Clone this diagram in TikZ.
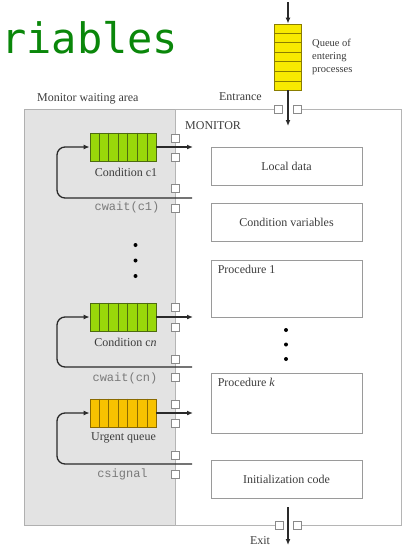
\documentclass[tikz,border=0pt]{standalone}
\usepackage{fontspec}
\setmainfont{Liberation Serif}
\setmonofont{Liberation Mono}
\newfontfamily\bigmono{DejaVu Sans Mono}
\usetikzlibrary{arrows.meta,calc}
\definecolor{txt}{HTML}{3C3C3C}
\definecolor{monotxt}{HTML}{7A7A7A}
\definecolor{graybg}{HTML}{E3E3E3}
\definecolor{grayedge}{HTML}{B0B0B0}
\definecolor{monedge}{HTML}{B5B5B5}
\definecolor{boxedge}{HTML}{9A9A9A}
\definecolor{sqedge}{HTML}{8A8A8A}
\definecolor{arrowc}{HTML}{2A2A2A}
\definecolor{qgreenfill}{HTML}{99D80A}
\definecolor{qgreenedge}{HTML}{4D6B10}
\definecolor{qurgfill}{HTML}{F7C200}
\definecolor{qurgedge}{HTML}{8A6A00}
\definecolor{qyelfill}{HTML}{F8EA00}
\definecolor{qyeledge}{HTML}{8A7D00}
\definecolor{titlegreen}{RGB}{10,135,10}
\tikzset{
  lbl/.style={font=\fontsize{12}{14}\selectfont, text=txt, inner sep=0pt},
  monolbl/.style={font=\ttfamily\fontsize{12}{14}\selectfont, text=monotxt, inner sep=0pt},
  pbox/.style={draw=boxedge, line width=0.8pt, minimum width=151pt, inner sep=0pt,
               font=\fontsize{12}{14}\selectfont, text=txt},
  sqbox/.style={draw=sqedge, fill=white, minimum size=8pt, inner sep=0pt, line width=0.6pt},
  arr/.style={draw=arrowc, line width=1.3pt, -{Latex[length=6pt,width=5pt]}},
  hqueue/.style={minimum width=66pt, minimum height=28pt, inner sep=0pt, line width=0.8pt},
  cellline/.style={line width=0.6pt},
  dot/.style={circle, fill=black, inner sep=0pt, minimum size=4pt}
}
\begin{document}
\begin{tikzpicture}[x=1pt,y=-1pt]
\useasboundingbox (0,0) rectangle (403,547);

% title fragment
\node[anchor=base west, inner sep=0pt, font=\bigmono\fontsize{42}{42}\selectfont, text=titlegreen] (title) at (1,53) {riables};

% waiting area
\fill[graybg] (24,109) rectangle (175,525);
\draw[grayedge, line width=1pt] (24,109) rectangle (175,525);
\node[lbl, anchor=base west] (wa) at (37,101) {Monitor waiting area};

% monitor outline
\draw[monedge, line width=0.9pt] (274,109) -- (175,109) -- (175,525) -- (275,525);
\draw[monedge, line width=0.9pt] (301,109) -- (401,109) -- (401,525) -- (302,525);
\node[lbl, anchor=base west] (mon) at (185,129.5) {MONITOR};

% entering queue
\node[draw=qyeledge, fill=qyelfill, minimum width=27pt, minimum height=66pt, inner sep=0pt, line width=0.8pt] (qe) at (288,57) {};
\foreach \i in {1,...,6}
  \draw[qyeledge, cellline] ($(qe.north west)!\i/7!(qe.south west)$) -- ($(qe.north east)!\i/7!(qe.south east)$);
\coordinate (entrytop) at (288,2);
\coordinate (entryend) at (288,126);
\draw[arr] (entrytop) -- (qe.north);
\draw[arr] (qe.south) -- (entryend);
\node[anchor=north west, align=left, inner sep=0pt, font=\fontsize{10.5}{13.3}\selectfont, text=txt] (qlbl) at (312,38.5) {Queue of\\entering\\processes};
\node[lbl, anchor=base east] (ent) at (262,100) {Entrance};
\node[sqbox] (st1) at (278,109.5) {};
\node[sqbox] (st2) at (297,109.5) {};

% exit
\coordinate (exittop) at (288,507);
\coordinate (exitend) at (288,545);
\draw[arr] (exittop) -- (exitend);
\node[sqbox] (sb1) at (279,525) {};
\node[sqbox] (sb2) at (297.5,525) {};
\node[lbl, anchor=base] (exitl) at (260,544) {Exit};

% right-hand boxes
\node[pbox, minimum height=38pt] (local) at (286.5,166) {Local data};
\node[pbox, minimum height=38pt] (condv) at (286.5,222) {Condition variables};
\node[pbox, minimum height=57pt] (p1) at (286.5,288.5) {};
\node[lbl, anchor=north west] (p1l) at ([xshift=7pt,yshift=-5.5pt]p1.north west) {Procedure 1};
\node[pbox, minimum height=60pt] (pk) at (286.5,403) {};
\node[lbl, anchor=north west] (pkl) at ([xshift=7pt,yshift=-5.5pt]pk.north west) {Procedure \textit{k}};
\node[pbox, minimum height=38pt] (init) at (286.5,479) {Initialization code};
\node[dot] (rd1) at (286,330) {};
\node[dot] (rd2) at (286,344.5) {};
\node[dot] (rd3) at (286,359) {};

% left dots
\node[dot] (ld1) at (135.5,245) {};
\node[dot] (ld2) at (135.5,260.5) {};
\node[dot] (ld3) at (135.5,276) {};

% condition c1
\node[hqueue, draw=qgreenedge, fill=qgreenfill] (q1) at (123,147) {};
\foreach \i in {1,...,6}
  \draw[qgreenedge, cellline] ($(q1.north west)!\i/7!(q1.north east)$) -- ($(q1.south west)!\i/7!(q1.south east)$);
\coordinate (o1) at (193,147);
\coordinate (l1) at (192,198);
\coordinate (k1) at (57,198);
\draw[arr] (q1.east) -- (o1);
\draw[arr, rounded corners=8pt] (l1) -- (k1) |- (q1.west);
\node[lbl, anchor=base] (q1l) at (126,176.7) {Condition c1};
\node[monolbl, anchor=base] (w1) at (127,210.7) {cwait(c1)};
\node[sqbox] (s1a) at (175,138.5) {};
\node[sqbox] (s1b) at (175,157) {};
\node[sqbox] (s1c) at (175,188.5) {};
\node[sqbox] (s1d) at (175,208) {};

% condition cn
\node[hqueue, draw=qgreenedge, fill=qgreenfill] (qn) at (123,317) {};
\foreach \i in {1,...,6}
  \draw[qgreenedge, cellline] ($(qn.north west)!\i/7!(qn.north east)$) -- ($(qn.south west)!\i/7!(qn.south east)$);
\coordinate (on) at (193,317);
\coordinate (ln) at (192,367);
\coordinate (kn) at (57,367);
\draw[arr] (qn.east) -- (on);
\draw[arr, rounded corners=8pt] (ln) -- (kn) |- (qn.west);
\node[lbl, anchor=base] (qnl) at (125.5,346) {Condition c\textit{n}};
\node[monolbl, anchor=base] (wn) at (125,381.7) {cwait(cn)};
\node[sqbox] (sna) at (175,307.5) {};
\node[sqbox] (snb) at (175,327) {};
\node[sqbox] (snc) at (175,359) {};
\node[sqbox] (snd) at (175,377.5) {};

% urgent queue
\node[hqueue, draw=qurgedge, fill=qurgfill] (qu) at (123,413) {};
\foreach \i in {1,...,6}
  \draw[qurgedge, cellline] ($(qu.north west)!\i/7!(qu.north east)$) -- ($(qu.south west)!\i/7!(qu.south east)$);
\coordinate (ou) at (193,413);
\coordinate (lu) at (192,464);
\coordinate (ku) at (57,464);
\draw[arr] (qu.east) -- (ou);
\draw[arr, rounded corners=8pt] (lu) -- (ku) |- (qu.west);
\node[lbl, anchor=base] (qul) at (123.5,440) {Urgent queue};
\node[monolbl, anchor=base] (cs) at (122.5,477) {csignal};
\node[sqbox] (sua) at (175,404.5) {};
\node[sqbox] (sub) at (175,423) {};
\node[sqbox] (suc) at (175,455.5) {};
\node[sqbox] (sud) at (175,474) {};
\end{tikzpicture}
\end{document}
